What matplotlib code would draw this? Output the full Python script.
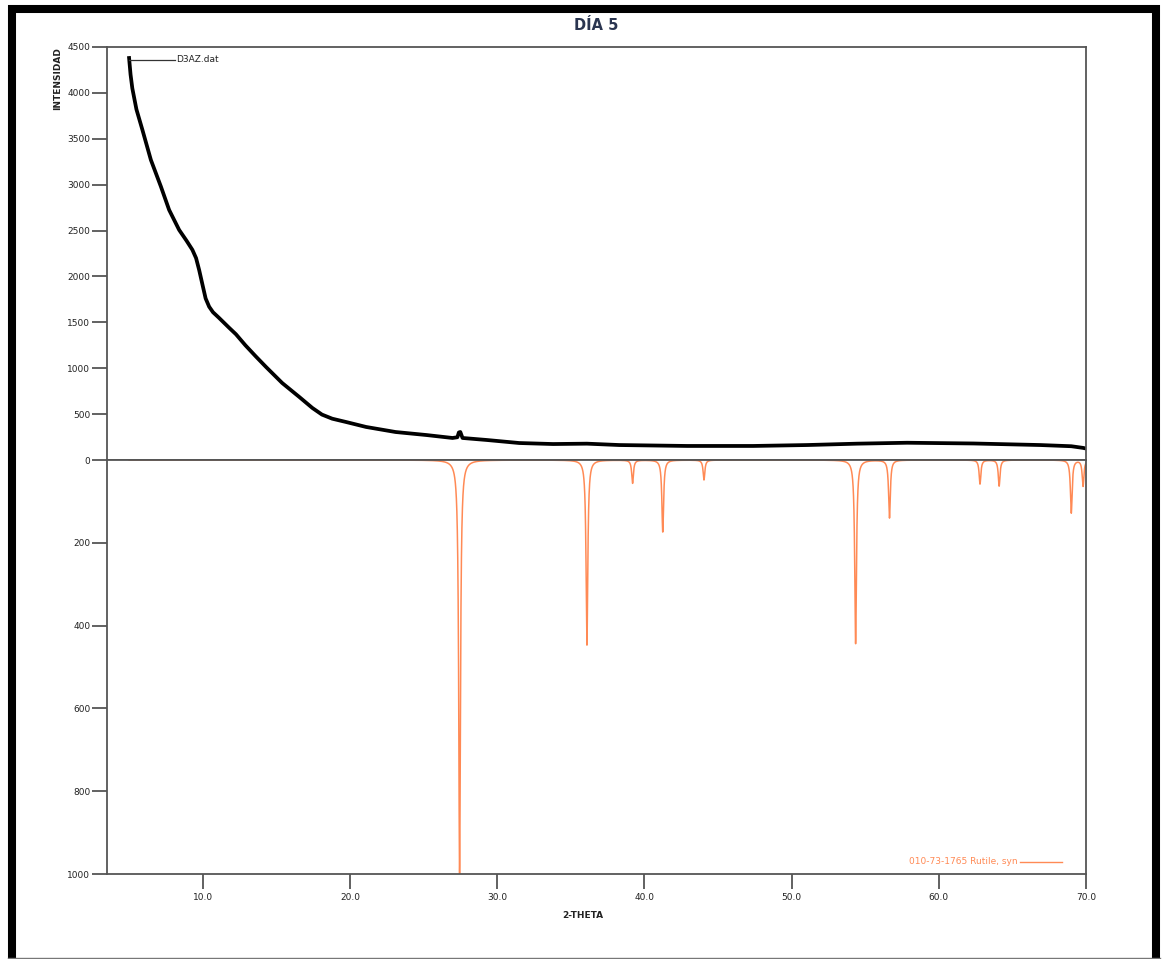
"""XRD pattern, day 5 sample vs. rutile reference."""
import matplotlib
matplotlib.use('Agg')
import matplotlib.pyplot as plt
from matplotlib.lines import Line2D
import numpy as np

plt.rcParams['font.family'] = ['Liberation Sans Narrow', 'DejaVu Sans']

# sample trace D3AZ.dat
two_theta = [5.0, 5.1, 5.22, 5.5, 5.9, 6.48, 7.16, 7.72, 8.4, 8.9, 9.3, 9.55,
             9.76, 10.0, 10.2, 10.44, 10.7, 11.1, 11.8, 12.26, 12.9, 13.6,
             14.3, 15.4, 16.56, 17.45, 18.1, 18.8, 19.74, 21.1, 23.1, 25.2,
             26.97, 27.3, 27.4, 27.5, 27.65, 29.3, 31.5, 33.8, 36.1, 38.3,
             42.9, 47.4, 51.05, 54.45, 57.85, 62.35, 66.9, 69.0, 69.8, 70.0]
intensity = [4380, 4200, 4050, 3820, 3600, 3270, 2980, 2725, 2507, 2390, 2290,
             2200, 2070, 1900, 1760, 1670, 1610, 1550, 1440, 1370, 1250, 1130,
             1014, 839, 687, 567, 495, 450, 414, 360, 305, 272,
             240, 248, 300, 305, 240, 218, 185, 174, 178, 163,
             153, 153, 163, 178, 188, 180, 163, 150, 132, 125]

# reference card 010-73-1765 Rutile, syn
peak_pos = [27.45, 36.1, 39.2, 41.25, 44.05, 54.35, 56.65, 62.8, 64.1, 69.0, 69.8]
peak_int = [1000, 447, 56, 174, 48, 444, 140, 58, 63, 128, 63]

y_top_ticks = list(range(0, 5000, 500))
y_bot_ticks = [200, 400, 600, 800, 1000]
x_ticks = [10, 20, 30, 40, 50, 60, 70]

ORANGE = '#FF8A55'
SPINE = '#555555'

fig = plt.figure(figsize=(11.66, 9.59), dpi=100)
gs = fig.add_gridspec(2, 1, height_ratios=[413, 414], hspace=0,
                      left=107/1166, right=1086/1166,
                      top=1-47/959, bottom=1-874/959)
ax1 = fig.add_subplot(gs[0])
ax2 = fig.add_subplot(gs[1], sharex=ax1)

for ax in (ax1, ax2):
    for sp in ax.spines.values():
        sp.set_color(SPINE)
        sp.set_linewidth(1.3)
    ax.tick_params(direction='out', length=11, width=1.3, color=SPINE,
                   labelsize=6.5, labelcolor='#222', pad=1)

# top panel: measured pattern
ax1.plot(two_theta, intensity, color='black', lw=2.7, solid_joinstyle='round')
ax1.plot([5.0, 8.1], [4360, 4360], color='#333', lw=0.9)
ax1.text(8.2, 4360, 'D3AZ.dat', fontsize=6.5, va='center', color='#222')
ax1.set_xlim(3.5, 70)
ax1.set_ylim(0, 4500)
ax1.set_yticks(y_top_ticks)
ax1.tick_params(axis='x', bottom=False, labelbottom=False)

# bottom panel: reference peaks, drawn downward
grid = np.arange(5.0, 70.0, 0.004)
profile = np.zeros_like(grid)
hw = 0.07
for p, h in zip(peak_pos, peak_int):
    profile += h / (1 + ((grid - p) / hw) ** 2)
ax2.plot(grid, profile, color=ORANGE, lw=1.1)
ax2.set_ylim(1000, 0)
ax2.set_yticks(y_bot_ticks)
ax2.set_xticks(x_ticks)
ax2.set_xticklabels([f'{v:.1f}' for v in x_ticks])
ax2.tick_params(axis='x', pad=3)

ax2.text(65.35, 970, '010-73-1765 Rutile, syn', color=ORANGE, fontsize=6.5,
         ha='right', va='center')
ax2.plot([65.5, 68.4], [970, 970], color=ORANGE, lw=1)

fig.text(596/1166, 1-25/959, 'DÍA 5', fontsize=10.5, ha='center', va='center',
         color='#2a3550', fontweight='bold')
fig.text(58/1166, 1-47/959, 'INTENSIDAD', fontsize=6.5, rotation=90,
         ha='center', va='top', fontweight='bold', color='#222')
fig.text(583/1166, 1-915/959, '2-THETA', fontsize=6.5, ha='center',
         va='center', fontweight='bold', color='#222')

# screenshot frame
W, H = 1166, 959
fig.add_artist(Line2D([12/W, 12/W], [0, 1-5/H], color='black', lw=5.8,
                      transform=fig.transFigure, solid_capstyle='butt'))
fig.add_artist(Line2D([8/W, 1160/W], [1-9/H, 1-9/H], color='black', lw=5.8,
                      transform=fig.transFigure, solid_capstyle='butt'))
fig.add_artist(Line2D([1156/W, 1156/W], [0, 1-5/H], color='black', lw=5.8,
                      transform=fig.transFigure, solid_capstyle='butt'))
fig.add_artist(Line2D([8/W, 1160/W], [1-957.5/H, 1-957.5/H], color='#777',
                      lw=1, transform=fig.transFigure))

fig.savefig('out.png', dpi=100)
